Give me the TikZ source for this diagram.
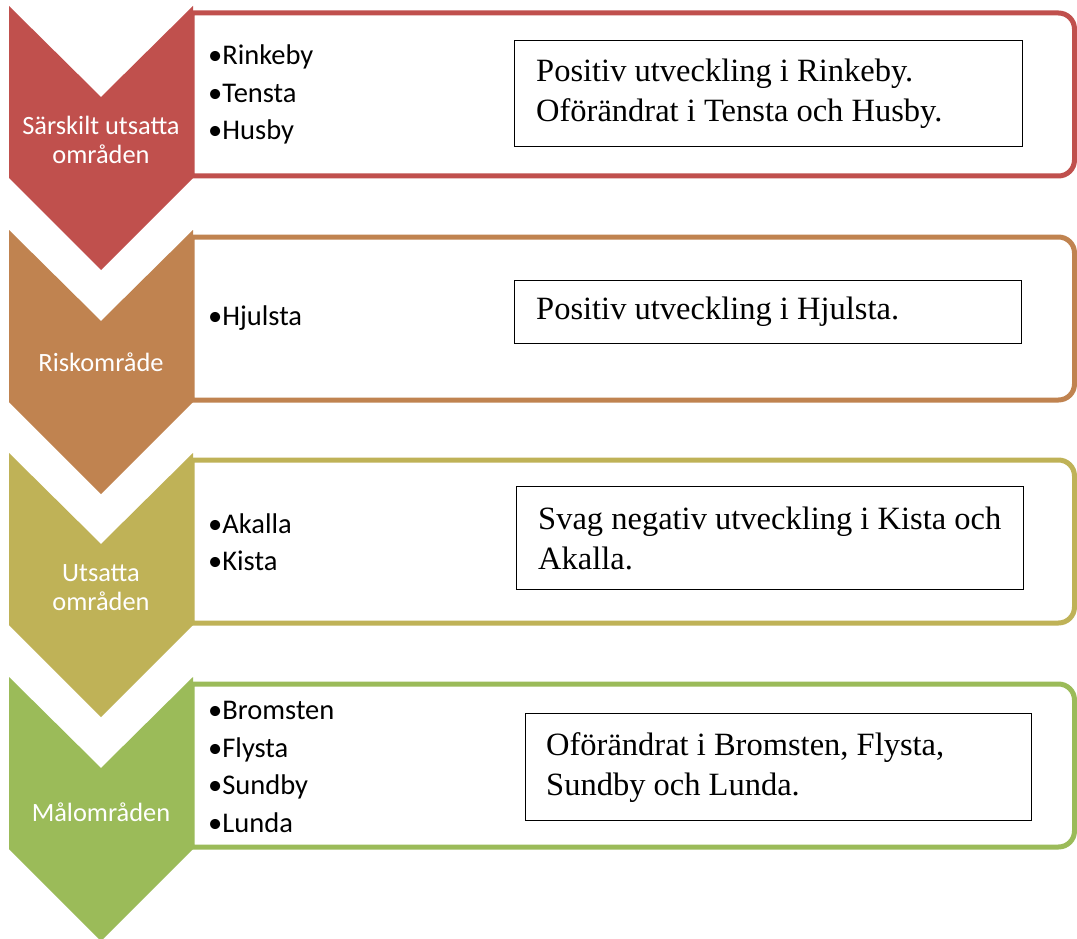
\documentclass[tikz,border=0pt]{standalone}
\usepackage{fontspec}
\setmainfont{Liberation Serif}
\newfontfamily\calib{Carlito}
\definecolor{cA}{RGB}{192,80,77}
\definecolor{cB}{RGB}{192,131,80}
\definecolor{cC}{RGB}{191,178,87}
\definecolor{cD}{RGB}{155,187,89}
\tikzset{
  outerbox/.style={line width=5pt, fill=white},
  innerbox/.style={draw=black, line width=1.4pt, fill=white, inner sep=0pt, anchor=north west},
  serif/.style={font=\fontsize{32.5}{40}\selectfont, align=left, inner sep=0pt, anchor=west},
  bullets/.style={font=\calib\fontsize{28.5}{37.5}\selectfont, align=left, inner sep=0pt, anchor=west},
  chevlabel/.style={font=\calib\fontsize{26.4}{29}\selectfont, text=white, align=center, inner sep=0pt},
}
\newcommand{\chevrow}[2]{%
  % #1 = y offset, #2 = colour
  \draw[outerbox, draw=#2] (192,13+#1) -- (1058.5,13+#1)
     arc[start angle=-90, end angle=0, radius=16] -- (1074.5,160+#1)
     arc[start angle=0, end angle=90, radius=16] -- (192,176+#1) -- cycle;
  \fill[#2] (9,6+#1) -- (101,97+#1) -- (193,6+#1) -- (193,178+#1) -- (101,270+#1) -- (9,178+#1) -- cycle;
}
\begin{document}
\begin{tikzpicture}[x=1pt,y=-1pt]
\useasboundingbox (0,0) rectangle (1077,939);
\fill[white] (0,0) rectangle (1077,939);

% Row 1
\chevrow{0}{cA}
\node[chevlabel] (l1) at (101,140) {Särskilt utsatta\\områden};
\node[bullets] (b1) at (208,94.5) {•Rinkeby\\•Tensta\\•Husby};
\node[innerbox, minimum width=508pt, minimum height=106pt] (t1) at (514,40) {};
\node[serif] (s1) at ([xshift=22pt]t1.west) {Positiv utveckling i Rinkeby.\\Oförändrat i Tensta och Husby.};

% Row 2
\chevrow{224}{cB}
\node[chevlabel] (l2) at (101,362) {Riskområde};
\node[bullets] (b2) at (208,318.5) {•Hjulsta};
\node[innerbox, minimum width=507pt, minimum height=63pt] (t2) at (514,280) {};
\node[serif] (s2) at ([xshift=22pt]t2.west) {Positiv utveckling i Hjulsta.};

% Row 3
\chevrow{447}{cC}
\node[chevlabel] (l3) at (101,588) {Utsatta\\områden};
\node[bullets] (b3) at (208,542) {•Akalla\\•Kista};
\node[innerbox, minimum width=507pt, minimum height=103pt] (t3) at (516,486) {};
\node[serif] (s3) at ([xshift=22pt]t3.west) {Svag negativ utveckling i Kista och\\Akalla.};

% Row 4
\chevrow{671}{cD}
\node[chevlabel] (l4) at (101,812) {Målområden};
\node[bullets] (b4) at (208,767) {•Bromsten\\•Flysta\\•Sundby\\•Lunda};
\node[innerbox, minimum width=506pt, minimum height=107pt] (t4) at (525,713) {};
\node[serif] (s4) at ([xshift=21pt]t4.west) {Oförändrat i Bromsten, Flysta,\\Sundby och Lunda.};
\end{tikzpicture}
\end{document}
